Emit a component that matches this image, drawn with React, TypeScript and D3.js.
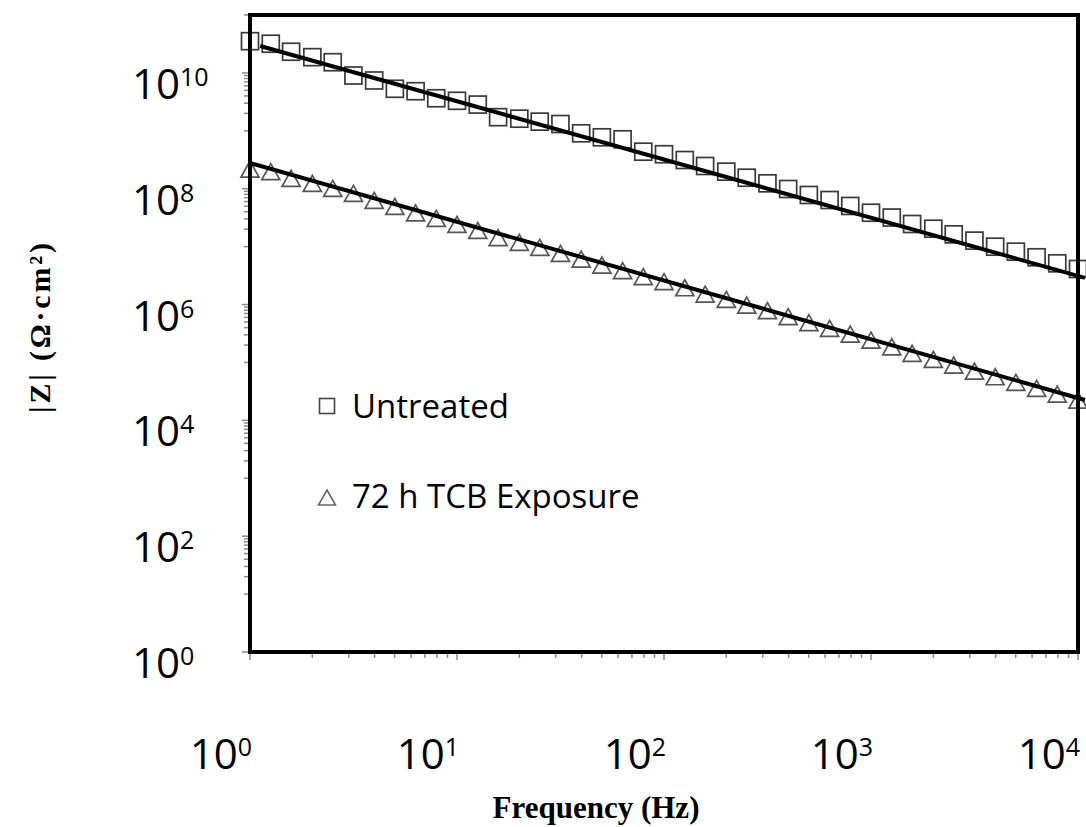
import React from "react";
import * as d3 from "d3";

// Frequency (Hz), 10 points per decade
const frequency = [
  1, 1.26, 1.58, 2, 2.51, 3.16, 3.98, 5.01, 6.31, 7.94,
  10, 12.6, 15.8, 20, 25.1, 31.6, 39.8, 50.1, 63.1, 79.4,
  100, 126, 158, 200, 251, 316, 398, 501, 631, 794,
  1000, 1260, 1580, 2000, 2510, 3160, 3980, 5010, 6310, 7940,
  10000,
];

// |Z| (Ohm·cm²), untreated
const zUntreated = [
  3.53e10, 3.19e10, 2.32e10, 1.87e10, 1.53e10, 9.02e9, 7.4e9, 5.32e9, 4.83e9, 3.65e9,
  3.3e9, 2.84e9, 1.72e9, 1.62e9, 1.44e9, 1.31e9, 9.06e8, 7.73e8, 7.14e8, 4.36e8,
  3.94e8, 3.13e8, 2.47e8, 1.97e8, 1.55e8, 1.24e8, 9.89e7, 7.8e7, 6.38e7, 5.04e7,
  3.85e7, 3.18e7, 2.46e7, 2.04e7, 1.63e7, 1.27e7, 9.98e6, 8.18e6, 6.55e6, 5.15e6,
  4.11e6,
];

// |Z| (Ohm·cm²), 72 h TCB exposure
const zTCB = [
  2.05e8, 1.85e8, 1.42e8, 1.16e8, 9.51e7, 7.8e7, 5.9e7, 4.65e7, 3.59e7, 2.88e7,
  2.27e7, 1.79e7, 1.34e7, 1.11e7, 9.1e6, 7.18e6, 5.71e6, 4.51e6, 3.61e6, 2.84e6,
  2.33e6, 1.83e6, 1.42e6, 1.15e6, 9.18e5, 7.35e5, 5.79e5, 4.56e5, 3.63e5, 2.9e5,
  2.28e5, 1.75e5, 1.35e5, 1.06e5, 8.45e4, 6.65e4, 5.32e4, 4.25e4, 3.34e4, 2.67e4,
  2.1e4,
];

// fitted lines (frequency, |Z|)
const fitUntreatedFreq = [1.12, 10800];
const fitUntreatedZ = [2.92e10, 2.89e6];
const fitTCBFreq = [1, 10800];
const fitTCBZ = [2.78e8, 2.25e4];

const xTickExponents = [0, 1, 2, 3, 4];
const yTickExponents = [0, 2, 4, 6, 8, 10];
const legendLabels = ["Untreated", "72 h TCB Exposure"];

const W = 1086;
const H = 827;
const LEFT = 250;
const RIGHT = 1078;
const TOP = 15;
const BOTTOM = 652;

const x = d3.scaleLog().domain([1, 1e4]).range([LEFT, RIGHT]);
const y = d3.scaleLog().domain([1, 1e11]).range([BOTTOM, TOP]);

const line = d3
  .line<[number, number]>()
  .x((d) => x(d[0]))
  .y((d) => y(d[1]));

const squareSize = 17;
const triPath = (cx: number, cy: number, w = 18, h = 16) =>
  `M${cx},${cy - h * 0.6}L${cx + w / 2},${cy + h * 0.4}L${cx - w / 2},${cy + h * 0.4}Z`;

const LABEL_FONT = "'Open Sans', 'DejaVu Sans', sans-serif";
const TITLE_FONT = "'Liberation Serif', 'Times New Roman', serif";

export default function App() {
  const [d0, d1] = y.domain();
  // y ticks: majors every two decades, minor ticks m*10^(odd)
  const yMinor: number[] = [];
  yTickExponents.forEach((e) => {
    for (let m = 1; m <= 9; m++) {
      const v = m * Math.pow(10, e + 1);
      if (v <= d1 && v >= d0) yMinor.push(v);
    }
  });
  const xTicks = x.ticks();
  const isPow10 = (v: number) => Math.abs(Math.log10(v) - Math.round(Math.log10(v))) < 1e-9;

  const untreatedPts = frequency.map((f, i) => [f, zUntreated[i]] as [number, number]);
  const tcbPts = frequency.map((f, i) => [f, zTCB[i]] as [number, number]);
  const fitU = fitUntreatedFreq.map((f, i) => [f, fitUntreatedZ[i]] as [number, number]);
  const fitT = fitTCBFreq.map((f, i) => [f, fitTCBZ[i]] as [number, number]);

  return (
    <svg
      width={W}
      height={H}
      style={{ position: "absolute", left: 0, top: 0, background: "#fff" }}
    >
      <rect x={0} y={0} width={W} height={H} fill="#fff" />
      {/* ticks */}
      <g stroke="#8a8a8a" strokeWidth={1.5}>
        {yTickExponents.map((e) => (
          <line key={"ym" + e} x1={LEFT - 8} x2={LEFT} y1={y(Math.pow(10, e))} y2={y(Math.pow(10, e))} />
        ))}
        {yMinor.map((v, i) => (
          <line key={"yn" + i} x1={LEFT - 6} x2={LEFT} y1={y(v)} y2={y(v)} />
        ))}
        {xTicks.map((v, i) => (
          <line
            key={"xt" + i}
            x1={x(v)}
            x2={x(v)}
            y1={BOTTOM}
            y2={BOTTOM + (isPow10(v) ? 8 : 6)}
          />
        ))}
      </g>

      {/* markers */}
      <g fill="none" stroke="#3a3a3a" strokeWidth={1.7}>
        {untreatedPts.map((d, i) => (
          <rect
            key={"s" + i}
            x={x(d[0]) - squareSize / 2}
            y={y(d[1]) - squareSize / 2}
            width={squareSize}
            height={squareSize}
          />
        ))}
      </g>
      <g fill="none" stroke="#555" strokeWidth={1.7}>
        {tcbPts.map((d, i) => (
          <path key={"t" + i} d={triPath(x(d[0]), y(d[1]))} />
        ))}
      </g>

      {/* frame */}
      <rect
        x={LEFT}
        y={TOP}
        width={RIGHT - LEFT}
        height={BOTTOM - TOP}
        fill="none"
        stroke="#000"
        strokeWidth={4}
      />

      {/* fit lines */}
      <path d={line(fitU) || ""} fill="none" stroke="#000" strokeWidth={4} />
      <path d={line(fitT) || ""} fill="none" stroke="#000" strokeWidth={4} />

      {/* tick labels */}
      <g fontFamily={LABEL_FONT} fill="#000">
        {yTickExponents.map((e) => (
          <text key={"yl" + e} x={132} y={y(Math.pow(10, e)) + 26} fontSize={42}>
            <tspan>10</tspan>
            <tspan dy={-13} fontSize={25}>
              {e}
            </tspan>
          </text>
        ))}
        {xTickExponents.map((e) => (
          <text
            key={"xl" + e}
            x={x(Math.pow(10, e)) + 2}
            y={769}
            fontSize={42}
            textAnchor="end"
          >
            <tspan>10</tspan>
            <tspan dy={-13} fontSize={25}>
              {e}
            </tspan>
          </text>
        ))}
      </g>

      {/* legend */}
      <g fontFamily={LABEL_FONT} fontSize={33} fill="#000">
        <rect x={327 - 7.5} y={406 - 7.5} width={15} height={15} fill="none" stroke="#444" strokeWidth={1.6} />
        <text x={352} y={418}>{legendLabels[0]}</text>
        <path d={triPath(327, 499, 17, 15)} fill="none" stroke="#666" strokeWidth={1.6} />
        <text x={352} y={508}>{legendLabels[1]}</text>
      </g>

      {/* axis titles */}
      <text
        x={596}
        y={818}
        textAnchor="middle"
        fontFamily={TITLE_FONT}
        fontWeight="bold"
        fontSize={31}
      >
        Frequency (Hz)
      </text>
      <text
        transform="translate(50,328) rotate(-90)"
        textAnchor="middle"
        fontFamily={TITLE_FONT}
        fontWeight="bold"
        fontSize={30}
        textLength={170}
        lengthAdjust="spacing"
      >
        |Z| (Ω·cm²)
      </text>
    </svg>
  );
}
